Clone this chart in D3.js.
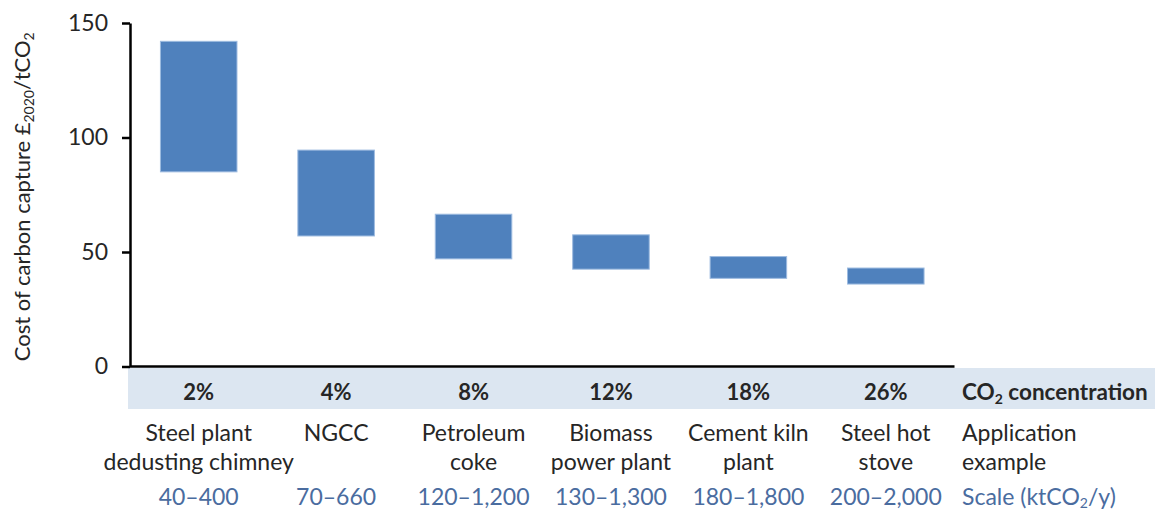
<!DOCTYPE html>
<html>
<head>
<meta charset="utf-8">
<script src="https://cdn.jsdelivr.net/npm/d3@7"></script>
<style>
  html, body { margin: 0; padding: 0; background: #ffffff; }
  svg { display: block; }
  text { font-family: Lato, "Open Sans", sans-serif; }
</style>
</head>
<body>
<svg id="chart" width="1155" height="512"></svg>
<script>
// Capture technologies ordered by flue-gas CO2 concentration
const concentrations = ["2%", "4%", "8%", "12%", "18%", "26%"];
const applications = [
  ["Steel plant", "dedusting chimney"],
  ["NGCC"],
  ["Petroleum", "coke"],
  ["Biomass", "power plant"],
  ["Cement kiln", "plant"],
  ["Steel hot", "stove"]
];
const scaleRanges = ["40–400", "70–660", "120–1,200", "130–1,300", "180–1,800", "200–2,000"];

// Cost range of carbon capture, £2020 per tonne CO2
const costLow  = [85, 57, 47, 42.5, 38.5, 36];
const costHigh = [142, 94.5, 66.5, 57.5, 48, 43];

const yTicks = [0, 50, 100, 150];

const svg = d3.select("#chart");
const W = 1155;
const plot = { left: 130, right: 954.5, top: 23, bottom: 366.5 };

const textColor = "#262626";
const scaleColor = "#4a6c9f";
const labelSize = "23px";

const x = d3.scaleBand()
  .domain(concentrations)
  .range([plot.left, plot.right])
  .paddingInner(0.443)
  .paddingOuter(0.2215);

const y = d3.scaleLinear()
  .domain([0, 150])
  .range([plot.bottom, plot.top]);

// Shaded concentration strip under the axis
svg.append("rect")
  .attr("x", plot.left - 2)
  .attr("y", plot.bottom + 1.5)
  .attr("width", W - plot.left + 2)
  .attr("height", 41)
  .attr("fill", "#dce6f1");

// Floating range bars
const rows = concentrations.map((c, i) => ({ c, lo: costLow[i], hi: costHigh[i] }));
svg.append("g").selectAll("rect")
  .data(rows)
  .join("rect")
  .attr("x", d => x(d.c))
  .attr("width", x.bandwidth())
  .attr("y", d => y(d.hi))
  .attr("height", d => y(d.lo) - y(d.hi))
  .attr("fill", "#4f81bd")
  .attr("stroke", "#9dbbe0")
  .attr("stroke-width", 1);

// Vertical axis
const yAxis = svg.append("g")
  .attr("transform", `translate(${plot.left},0)`)
  .call(d3.axisLeft(y).tickValues(yTicks).tickSize(8).tickSizeOuter(0).tickPadding(14));
yAxis.select(".domain").attr("stroke", "#000").attr("stroke-width", 2.5);
yAxis.selectAll(".tick line").attr("stroke", "#000").attr("stroke-width", 2.5);
yAxis.selectAll(".tick text")
  .attr("fill", textColor)
  .style("font-size", "23px")
  .style("font-family", "Lato, sans-serif");

// Horizontal baseline
svg.append("line")
  .attr("x1", plot.left)
  .attr("x2", plot.right)
  .attr("y1", y(0))
  .attr("y2", y(0))
  .attr("stroke", "#000")
  .attr("stroke-width", 2.5);

// Axis title with subscripts
const title = svg.append("text")
  .attr("transform", `translate(29.5,${(plot.top + plot.bottom) / 2 + 2}) rotate(-90)`)
  .attr("text-anchor", "middle")
  .attr("fill", textColor)
  .style("font-size", "22px");
title.append("tspan").text("Cost of carbon capture £");
title.append("tspan").text("2020").attr("dy", 4).style("font-size", "14px");
title.append("tspan").text("/tCO").attr("dy", -4);
title.append("tspan").text("2").attr("dy", 4).style("font-size", "14px");

// Concentration row
svg.append("g").selectAll("text")
  .data(concentrations)
  .join("text")
  .attr("x", d => x(d) + x.bandwidth() / 2)
  .attr("y", 400)
  .attr("text-anchor", "middle")
  .attr("fill", textColor)
  .style("font-size", "22px")
  .style("font-weight", "bold")
  .text(d => d);

// Application examples (one or two lines)
const appG = svg.append("g").selectAll("text")
  .data(applications)
  .join("text")
  .attr("text-anchor", "middle")
  .attr("fill", textColor)
  .style("font-size", labelSize);
appG.selectAll("tspan")
  .data((lines, i) => lines.map(l => ({ l, i })))
  .join("tspan")
  .attr("x", d => x(concentrations[d.i]) + x.bandwidth() / 2)
  .attr("y", (d, j) => 441 + j * 29)
  .text(d => d.l);

// Plant scale row
const scaleY = 505;
svg.append("g").selectAll("text")
  .data(scaleRanges)
  .join("text")
  .attr("x", (d, i) => x(concentrations[i]) + x.bandwidth() / 2)
  .attr("y", scaleY)
  .attr("text-anchor", "middle")
  .attr("fill", scaleColor)
  .style("font-size", labelSize)
  .text(d => d);

// Row headings on the right
const lx = 962;
const h1 = svg.append("text")
  .attr("x", lx).attr("y", 400)
  .attr("fill", textColor)
  .style("font-size", "22.5px")
  .style("font-weight", "bold");
h1.append("tspan").text("CO");
h1.append("tspan").text("2").attr("dy", 4).style("font-size", "14px");
h1.append("tspan").text(" concentration").attr("dy", -4);

svg.append("text")
  .attr("fill", textColor)
  .style("font-size", labelSize)
  .selectAll("tspan")
  .data(["Application", "example"])
  .join("tspan")
  .attr("x", lx)
  .attr("y", (d, j) => 441 + j * 29)
  .text(d => d);

const h3 = svg.append("text")
  .attr("x", lx).attr("y", scaleY)
  .attr("fill", scaleColor)
  .style("font-size", labelSize);
h3.append("tspan").text("Scale (ktCO");
h3.append("tspan").text("2").attr("dy", 3).style("font-size", "14px");
h3.append("tspan").text("/y)").attr("dy", -3);
</script>
</body>
</html>
